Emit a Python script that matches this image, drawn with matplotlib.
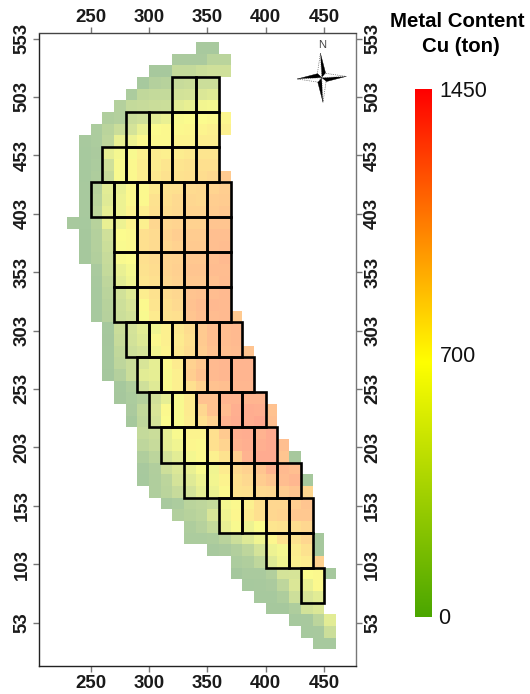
import numpy as np
import matplotlib
matplotlib.use("Agg")
import matplotlib.pyplot as plt
from matplotlib.colors import LinearSegmentedColormap, Normalize
from matplotlib.patches import Rectangle, Polygon

W, H = 530, 694

# Cell rows: bottom y of the row, x of the first cell, metal content of each 10x10 cell (ton)
row_bottoms = list(range(540, 20, -10))
row_starts = [340, 320, 300, 290, 280, 270, 260, 250, 240, 240, 240, 240, 240, 240, 240, 230,
              240, 240, 240, 250, 250, 250, 250, 250, 260, 260, 260, 260, 260, 270, 270, 280,
              280, 290, 290, 290, 290, 290, 300, 310, 320, 330, 330, 350, 370, 370, 380, 390,
              400, 420, 430, 440]
row_values = [
    [200, 200],
    [220, 220, 220, 320, 320],
    [180, 180, 380, 380, 430, 450, 450],
    [190, 280, 300, 400, 420, 430, 430],
    [230, 360, 380, 380, 470, 480, 520, 540],
    [280, 380, 400, 420, 430, 560, 590, 650, 660],
    [250, 280, 420, 450, 550, 600, 680, 700, 700, 720, 740],
    [230, 320, 420, 480, 600, 700, 720, 720, 740, 750, 780, 780],
    [200, 230, 340, 600, 620, 720, 720, 720, 760, 760, 800, 800],
    [190, 220, 580, 660, 680, 780, 800, 780, 800, 830, 860, 860],
    [190, 230, 450, 680, 720, 800, 800, 850, 860, 880, 900, 900],
    [190, 240, 400, 680, 720, 800, 830, 880, 880, 900, 920, 950, 1050],
    [200, 300, 560, 600, 720, 720, 830, 880, 900, 930, 950, 980, 1020],
    [200, 320, 540, 620, 720, 720, 880, 900, 940, 960, 950, 1020, 1040],
    [200, 340, 580, 620, 760, 800, 900, 920, 950, 980, 980, 1040, 1060],
    [200, 190, 300, 600, 620, 760, 780, 960, 960, 980, 1000, 1000, 1080, 1080],
    [170, 280, 450, 700, 720, 900, 930, 980, 1020, 1040, 1040, 1120, 1120],
    [170, 280, 430, 690, 720, 900, 930, 960, 1000, 1050, 1050, 1120, 1130],
    [170, 270, 400, 680, 700, 900, 930, 980, 1000, 1060, 1060, 1120, 1150],
    [210, 380, 600, 660, 880, 920, 980, 1010, 1080, 1080, 1130, 1130],
    [200, 340, 560, 640, 860, 900, 960, 1000, 1060, 1060, 1110, 1140],
    [190, 320, 460, 540, 800, 880, 930, 960, 1090, 1100, 1130, 1150],
    [190, 300, 440, 500, 720, 860, 900, 940, 1100, 1130, 1160, 1150],
    [190, 290, 430, 470, 680, 820, 880, 900, 1080, 1120, 1140, 1150, 1050],
    [170, 420, 480, 560, 640, 780, 840, 920, 1050, 1120, 1130, 1150],
    [160, 400, 470, 530, 720, 780, 820, 900, 1050, 1120, 1130, 1150],
    [170, 360, 440, 480, 650, 760, 840, 920, 1030, 1100, 1120, 1140, 1090],
    [170, 340, 420, 500, 580, 720, 820, 1000, 1060, 1150, 1170, 1180, 1180],
    [150, 280, 420, 560, 580, 680, 780, 1020, 1100, 1150, 1170, 1180, 1180],
    [170, 250, 450, 540, 680, 780, 900, 1000, 1100, 1120, 1170, 1170],
    [160, 230, 280, 460, 580, 680, 820, 1100, 1100, 1180, 1190, 1180, 1180],
    [220, 360, 500, 720, 680, 820, 960, 1100, 1140, 1220, 1240, 1220, 1100],
    [170, 340, 480, 700, 680, 800, 900, 1000, 1200, 1240, 1240, 1260, 1120],
    [380, 420, 580, 680, 760, 760, 900, 1050, 1220, 1240, 1200, 1250],
    [340, 400, 580, 640, 740, 720, 900, 980, 1200, 1220, 1220, 1250, 1120],
    [250, 330, 480, 560, 660, 720, 780, 880, 1020, 1200, 1250, 1250, 1080, 180],
    [200, 260, 440, 520, 600, 680, 640, 820, 950, 1000, 1080, 1200, 1150, 1120],
    [190, 250, 330, 480, 540, 620, 650, 760, 900, 950, 1030, 1080, 1130, 1170, 170],
    [250, 320, 400, 480, 580, 620, 720, 880, 900, 950, 960, 1040, 1080, 960],
    [200, 230, 320, 340, 380, 660, 720, 780, 900, 960, 960, 1020, 1080],
    [270, 300, 330, 500, 640, 740, 820, 900, 960, 980, 1060, 1060],
    [240, 290, 380, 600, 680, 620, 700, 860, 880, 920, 960],
    [230, 230, 240, 310, 430, 530, 630, 740, 880, 880, 960, 170],
    [200, 220, 270, 340, 480, 620, 660, 800, 880, 170],
    [230, 250, 350, 540, 640, 780, 820, 1000],
    [150, 210, 210, 270, 480, 490, 700, 720, 170],
    [190, 200, 220, 340, 520, 600, 720],
    [190, 190, 240, 440, 500, 560],
    [170, 170, 240, 470, 520],
    [190, 200, 330, 560],
    [190, 200, 430],
    [190, 190],
]

# Mining blocks: bottom y of the row, first block x, number of blocks (20 x 30 units each)
block_bottoms = [490, 460, 430, 400, 370, 340, 310, 280, 250, 220, 190, 160, 130, 100, 70]
block_starts = [320, 280, 260, 250, 270, 270, 270, 280, 290, 300, 310, 330, 360, 400, 430]
block_counts = [2, 4, 5, 6, 5, 5, 5, 5, 5, 5, 5, 5, 4, 2, 1]

x_ticks = [250, 300, 350, 400, 450]
y_ticks = [53, 103, 153, 203, 253, 303, 353, 403, 453, 503, 553]
bar_labels = ["0", "700", "1450"]
bar_values = [0, 700, 1450]
title_lines = ["Metal Content", "Cu (ton)"]

cell_stops = [(0, "#9CC199"), (200, "#A8C99E"), (450, "#CFE09A"), (700, "#FBFB8E"),
              (1000, "#FFD290"), (1250, "#FFAB90"), (1450, "#FF8080")]
bar_stops = [(0, "#4BA600"), (700, "#FFFF00"), (1450, "#FF0000")]


def cmap_from(stops):
    top = stops[-1][0]
    return LinearSegmentedColormap.from_list("m", [(v / top, c) for v, c in stops])


norm = Normalize(0, 1450)
plt.rcParams["font.family"] = ["Liberation Sans", "DejaVu Sans"]
fig = plt.figure(figsize=(W / 100, H / 100), dpi=100)


def box(l, t, r, b):
    return [l / W, 1 - b / H, (r - l) / W, (b - t) / H]


ax = fig.add_axes(box(38.5, 33.5, 355.7, 666))
ax.set_xlim(205.3, 477)
ax.set_ylim(15.8, 557.3)

# Cell grid from the rows
x_edges = np.arange(230, 470, 10)
y_edges = np.arange(30, 560, 10)
grid = np.full((len(y_edges) - 1, len(x_edges) - 1), np.nan)
for bottom, start, vals in zip(row_bottoms, row_starts, row_values):
    i = (bottom - 30) // 10
    j = (start - 230) // 10
    grid[i, j:j + len(vals)] = vals
ax.pcolormesh(x_edges, y_edges, grid, cmap=cmap_from(cell_stops), norm=norm,
              antialiased=False, zorder=1)

for bottom, start, count in zip(block_bottoms, block_starts, block_counts):
    for k in range(count):
        ax.add_patch(Rectangle((start + 20 * k, bottom), 20, 30, fill=False,
                               edgecolor="black", linewidth=1.9, zorder=3,
                               joinstyle="miter"))

# Frame and ticks on all four sides
ax.set_xticks(x_ticks)
ax.set_yticks(y_ticks)
ax.set_xticklabels([])
ax.set_yticklabels([])
ax.tick_params(which="major", top=True, right=True, length=4, width=1, color="#777777")
ax.spines["left"].set_color("#222222")
ax.spines["bottom"].set_color("#222222")
ax.spines["top"].set_color("#444444")
ax.spines["right"].set_color("#777777")
for s in ax.spines.values():
    s.set_linewidth(1.0)


def px_text(x, y, s, **kw):
    kw.setdefault("ha", "center")
    kw.setdefault("va", "center")
    fig.text(x / W, 1 - y / H, s, **kw)


def x_px(v):
    return 90.7 + (v - 250) * 1.1667


def y_px(v):
    return 38.5 + (553 - v) * 1.168


for v in x_ticks:
    px_text(x_px(v), 17, str(v), fontsize=13.4, fontweight="bold", color="#1a1a1a")
    px_text(x_px(v), 683, str(v), fontsize=13.4, fontweight="bold", color="#1a1a1a")
for v in y_ticks:
    px_text(22, y_px(v), str(v), fontsize=13.4, fontweight="bold", rotation=90, color="#1a1a1a")
    px_text(372.7, y_px(v), str(v), fontsize=13.4, fontweight="bold", rotation=90, color="#1a1a1a")

# Compass (page decoration, in pixel positions)
cx, cy = 321.7, 77.7


def star_poly(pts, **kw):
    fig.add_artist(Polygon([((cx + dx) / W, 1 - (cy + dy) / H) for dx, dy in pts],
                           closed=True, transform=fig.transFigure, **kw))


tilt = np.deg2rad(-3)
for ang in (0, 90, 180, 270):
    a = np.deg2rad(ang) + tilt
    ux, uy = np.sin(a), -np.cos(a)
    vx, vy = np.cos(a), np.sin(a)
    L = 24.5
    w = 4.2
    tip = (ux * L, uy * L)
    star_poly([(0, 0), tip, (ux * 4 + vx * w, uy * 4 + vy * w)], facecolor="black",
              edgecolor="black", linewidth=0.3, zorder=5)
    star_poly([(0, 0), tip, (ux * 4 - vx * w, uy * 4 - vy * w)], facecolor="white",
              edgecolor="#333333", linewidth=0.5, linestyle=":", zorder=5)
px_text(321.7, 44.5, "N", fontsize=8, color="#444444")

# Colour bar
cax = fig.add_axes(box(415, 89, 431.5, 617))
cax.imshow(np.linspace(1450, 0, 256).reshape(-1, 1), aspect="auto", cmap=cmap_from(bar_stops),
           norm=norm, extent=[0, 1, 0, 1450], interpolation="bilinear")
cax.axis("off")

label_pos = {0: (437.7, 618), 700: (440, 356), 1450: (439, 91.5)}
for v, s in zip(bar_values, bar_labels):
    x, y = label_pos[v]
    px_text(x, y, s, fontsize=15.5, ha="left", color="#111111")

px_text(457.5, 21.7, title_lines[0], fontsize=14.7, fontweight="bold", color="black")
px_text(461, 46, title_lines[1], fontsize=14.7, fontweight="bold", color="black")

fig.savefig("out.png", dpi=100)
